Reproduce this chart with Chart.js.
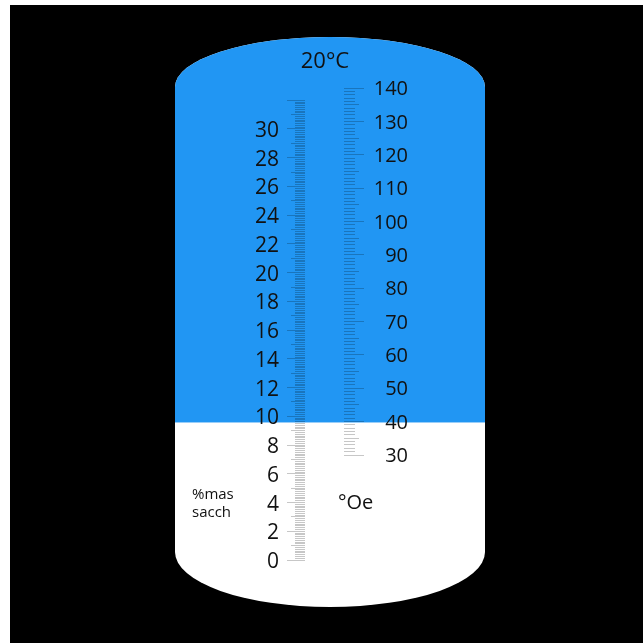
<!DOCTYPE html>
<html>
<head>
<meta charset="utf-8">
<script src="https://cdn.jsdelivr.net/npm/chart.js@4.4.1/dist/chart.umd.min.js"></script>
<style>
  html, body { margin: 0; padding: 0; background: #fff; }
  canvas { display: block; }
</style>
</head>
<body>
<canvas id="c" width="643" height="643"></canvas>
<script>
// ---- data ----
const sugarRuler = [0, 32];                 // extent of the %mas sacch ruler
const sugarLabels = [0, 2, 4, 6, 8, 10, 12, 14, 16, 18, 20, 22, 24, 26, 28, 30];
const sugarStep = 0.125;                    // smallest division
const oeRuler = [30, 140];                  // extent of the °Oe ruler
const oeLabels = [30, 40, 50, 60, 70, 80, 90, 100, 110, 120, 130, 140];
const oeStep = 1;
const reading = 9.55;                       // %mas sacch where blue meets white
const titleText = '20°C';
const sugarUnit = ['%mas', 'sacch'];
const oeUnit = '°Oe';

// ---- helpers ----
const TICK = 'rgba(0,0,0,0.22)';
const near = (a, b) => Math.abs(a - b) < 1e-6;
const multipleOf = (v, m) => near(v, Math.round(v / m) * m);
const tv = c => (c && c.tick) ? c.tick.value : 0;

const bodyPlugin = {
  id: 'refractoBody',
  beforeDraw(chart) {
    const ctx = chart.ctx, W = chart.width, H = chart.height;
    ctx.save();
    ctx.fillStyle = '#fff';
    ctx.fillRect(0, 0, W, H);
    ctx.fillStyle = '#000';
    ctx.fillRect(10, 5, W - 10, H - 5);
    const L = 175, R = 485, cx = (L + R) / 2, rx = (R - L) / 2;
    const topCy = 87, topRy = 50, botCy = 552, botRy = 55;
    ctx.beginPath();
    ctx.moveTo(L, botCy);
    ctx.lineTo(L, topCy);
    ctx.ellipse(cx, topCy, rx, topRy, 0, Math.PI, 2 * Math.PI);
    ctx.lineTo(R, botCy);
    ctx.ellipse(cx, botCy, rx, botRy, 0, 0, Math.PI);
    ctx.closePath();
    ctx.fillStyle = '#fff';
    ctx.fill();
    ctx.clip();
    const yLevel = chart.scales.y.getPixelForValue(reading);
    ctx.fillStyle = '#2196f3';
    ctx.fillRect(0, 0, W, yLevel);
    ctx.fillStyle = 'rgba(255,255,255,0.6)';
    ctx.fillRect(0, yLevel - 0.5, W, 1.5);
    ctx.restore();
  },
  afterDraw(chart) {
    const ctx = chart.ctx;
    ctx.save();
    ctx.fillStyle = '#111';
    ctx.textBaseline = 'middle';
    ctx.textAlign = 'center';
    ctx.font = '22px "Open Sans"';
    ctx.fillText(titleText, 325, 62);
    ctx.textAlign = 'left';
    ctx.font = '15px "Open Sans"';
    ctx.fillText(sugarUnit[0], 192, 494.5);
    ctx.fillText(sugarUnit[1], 192, 512.5);
    ctx.font = '20px "Open Sans"';
    ctx.fillText(oeUnit, 338, 503.5);
    ctx.restore();
  }
};

new Chart(document.getElementById('c'), {
  type: 'scatter',
  data: { datasets: [] },
  plugins: [bodyPlugin],
  options: {
    responsive: false,
    animation: false,
    layout: { padding: { left: 0, right: 235, top: 88, bottom: 83 } },
    plugins: {
      legend: { display: false },
      tooltip: { enabled: false },
      title: { display: false }
    },
    scales: {
      x: { type: 'linear', min: 0, max: 1, display: false },
      y: {
        type: 'linear',
        position: 'left',
        min: 0,
        max: 32.853,
        afterFit: s => { s.width = 305; },
        afterBuildTicks: s => {
          s.ticks = s.ticks.filter(t => t.value >= sugarRuler[0] - 1e-6 && t.value <= sugarRuler[1] + 1e-6);
        },
        border: { display: false },
        grid: {
          drawOnChartArea: false,
          drawTicks: true,
          tickLength: 18,
          tickColor: TICK,
          tickWidth: 1,
          tickBorderDash: c => {
            const v = tv(c);
            if (multipleOf(v, 2)) return [];
            const len = multipleOf(v, 1) ? 14 : 10;
            return [0, 18 - len, len, 0];
          }
        },
        ticks: {
          stepSize: sugarStep,
          autoSkip: false,
          maxRotation: 0,
          padding: 8,
          labelOffset: 2,
          color: '#111',
          font: { family: 'Open Sans', size: 21 },
          callback: v => sugarLabels.some(l => near(l, v)) ? String(Math.round(v)) : ''
        }
      },
      y2: {
        type: 'linear',
        position: 'right',
        min: -1.47,
        max: 140,
        afterFit: s => { s.width = 64; },
        afterBuildTicks: s => {
          s.ticks = s.ticks.filter(t => t.value >= oeRuler[0] - 1e-6 && t.value <= oeRuler[1] + 1e-6);
        },
        border: { display: false },
        grid: {
          drawOnChartArea: false,
          drawTicks: true,
          tickLength: 20,
          tickColor: TICK,
          tickWidth: 1,
          tickBorderDash: c => {
            const v = tv(c);
            if (multipleOf(v, 10)) return [];
            const len = multipleOf(v, 5) ? 15 : 11;
            return [len, 100];
          }
        },
        ticks: {
          stepSize: oeStep,
          autoSkip: false,
          maxRotation: 0,
          padding: 10,
          labelOffset: 1.5,
          crossAlign: 'far',
          color: '#111',
          font: { family: 'Open Sans', size: 20 },
          callback: v => oeLabels.some(l => near(l, v)) ? String(Math.round(v)) : ''
        }
      }
    }
  }
});
</script>
</body>
</html>
